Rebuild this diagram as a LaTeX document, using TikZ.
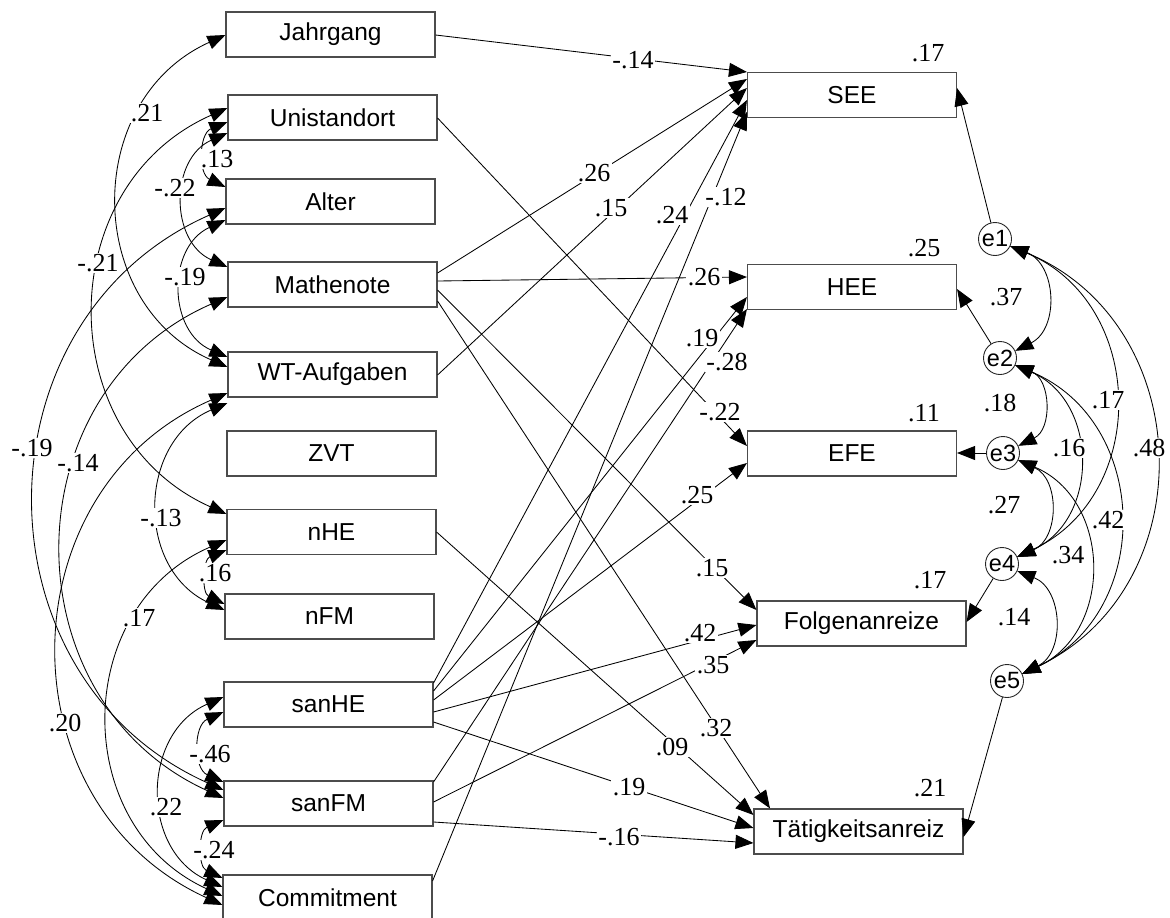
\documentclass[tikz,border=0pt]{standalone}
\usepackage{fontspec}
\setmainfont{Liberation Serif}
\newfontfamily\arialfont{Liberation Sans}
\usetikzlibrary{arrows.meta}

\begin{document}
\begin{tikzpicture}[x=1pt,y=-1pt,
  >={Triangle[length=18pt,width=14pt]},
  var/.style={draw=black!70,line width=1.1pt,minimum width=209pt,minimum height=45pt,
    inner sep=0pt,font=\arialfont\fontsize{24.5}{28}\selectfont},
  err/.style={draw=black!85,circle,line width=0.9pt,minimum size=33pt,inner sep=0pt,
    font=\arialfont\fontsize{23.5}{26}\selectfont},
  reg/.style={->,line width=0.85pt},
  cov/.style={<->,line width=0.85pt,looseness=1.21},
  covl/.style={cov,bend right=66},
  covr/.style={cov,bend left=66},
  coef/.style={fill=white,inner sep=1.5pt,font=\fontsize{26}{28}\selectfont},
  rsq/.style={inner sep=1pt,font=\fontsize{26}{28}\selectfont}
]
\useasboundingbox (0,0) rectangle (1170,918);

% exogenous variables
\node[var] (jahr)  at (330.5,34.5)  {Jahrgang};
\node[var] (uni)   at (332.5,117.5) {Unistandort};
\node[var] (alter) at (330.5,201.5) {Alter};
\node[var] (mathe) at (332.5,284.5) {Mathenote};
\node[var] (wt)    at (332.5,374.5) {WT-Aufgaben};
\node[var] (zvt)   at (331.5,453.5) {ZVT};
\node[var] (nhe)   at (331.5,532)   {nHE};
\node[var] (nfm)   at (329.5,616.5) {nFM};
\node[var] (sanhe) at (328.5,704.5) {sanHE};
\node[var] (sanfm) at (328.5,803.5) {sanFM};
\node[var] (comm)  at (327.5,897.5) {Commitment};

% endogenous variables
\node[var] (see)  at (852,95)    {SEE};
\node[var] (hee)  at (852,287)   {HEE};
\node[var] (efe)  at (852,453.5) {EFE};
\node[var] (folg) at (861.5,623.5) {Folgenanreize};
\node[var] (taet) at (858.5,831.5) {Tätigkeitsanreiz};

% residuals
\node[err] (e1) at (995,239)  {e1};
\node[err] (e2) at (1000,358) {e2};
\node[err] (e3) at (1003,453) {e3};
\node[err] (e4) at (1002,564) {e4};
\node[err] (e5) at (1007,681) {e5};

% squared multiple correlations
\node[rsq] (r1) at (928,53)  {.17};
\node[rsq] (r2) at (924,248) {.25};
\node[rsq] (r3) at (924,413) {.11};
\node[rsq] (r4) at (930,580) {.17};
\node[rsq] (r5) at (930,788) {.21};

% regression paths
\draw[reg] (jahr.east |- 0,35)   -- (see.west |- 0,72);
\draw[reg] (mathe.east |- 0,273) -- (see.west |- 0,79);
\draw[reg] (wt.east |- 0,375)    -- (see.west |- 0,88);
\draw[reg] (sanhe.east |- 0,683) -- (see.west |- 0,100);
\draw[reg] (comm.east |- 0,881)  -- (see.west |- 0,112);
\draw[reg] (mathe.east |- 0,281) -- (hee.west |- 0,277);
\draw[reg] (sanhe.east |- 0,691) -- (hee.west |- 0,297);
\draw[reg] (sanfm.east |- 0,782) -- (hee.west |- 0,309);
\draw[reg] (uni.east |- 0,118)   -- (efe.west |- 0,446);
\draw[reg] (sanhe.east |- 0,700) -- (efe.west |- 0,463);
\draw[reg] (mathe.east |- 0,290) -- (folg.west |- 0,610);
\draw[reg] (sanhe.east |- 0,712) -- (folg.west |- 0,625);
\draw[reg] (sanfm.east |- 0,802) -- (folg.west |- 0,640);
\draw[reg] (mathe.east |- 0,301) -- (taet.north -| 770,0);
\draw[reg] (nhe.east |- 0,532)   -- (taet.west |- 0,815);
\draw[reg] (sanhe.east |- 0,722) -- (taet.west |- 0,828);
\draw[reg] (sanfm.east |- 0,822) -- (taet.west |- 0,843);

% residual paths
\draw[reg] (e1) -- (see.east |- 0,88);
\draw[reg] (e2) -- (hee.east |- 0,289);
\draw[reg] (e3) -- (efe.east |- 0,453);
\draw[reg] (e4) -- (folg.east |- 0,622);
\draw[reg] (e5) -- (taet.east |- 0,837);

% covariances among exogenous variables
\draw[covl] (jahr.west |- 0,35)   to (wt.west |- 0,367);
\draw[covl] (uni.west |- 0,122)   to (alter.west |- 0,187);
\draw[covl] (uni.west |- 0,133)   to (mathe.west |- 0,267);
\draw[covl] (uni.west |- 0,108)   to (nhe.west |- 0,514);
\draw[covl] (alter.west |- 0,220) to (wt.west |- 0,357);
\draw[covl] (alter.west |- 0,208) to (sanfm.west |- 0,790);
\draw[covl] (mathe.west |- 0,297) to (sanfm.west |- 0,798);
\draw[covl] (wt.west |- 0,403)    to (nfm.west |- 0,610);
\draw[covl] (nhe.west |- 0,550)   to (nfm.west |- 0,604);
\draw[covl] (nhe.west |- 0,540)   to (comm.west |- 0,896);
\draw[covl] (wt.west |- 0,393)    to (comm.west |- 0,905);
\draw[covl] (sanhe.west |- 0,712) to (sanfm.west |- 0,782);
\draw[covl] (sanhe.west |- 0,697) to (comm.west |- 0,887);
\draw[covl] (sanfm.west |- 0,820) to (comm.west |- 0,878);

% residual covariances
\draw[covr] (e1.-25) to (e2.25);
\draw[covr] (e2.-25) to (e3.25);
\draw[covr] (e3.-25) to (e4.25);
\draw[covr] (e4.-25) to (e5.25);
\draw[covr] (e1.-25) to (e4.25);
\draw[covr] (e1.-25) to (e5.25);
\draw[covr] (e2.-25) to (e4.25);
\draw[covr] (e2.-25) to (e5.25);
\draw[covr] (e3.-25) to (e5.25);

% regression weights
\node[coef] (w1)  at (633,60)  {-.14};
\node[coef] (w2)  at (594,173) {.26};
\node[coef] (w3)  at (611,208) {.15};
\node[coef] (w4)  at (672,215) {.24};
\node[coef] (w5)  at (726,197) {-.12};
\node[coef] (w6)  at (704,277) {.26};
\node[coef] (w7)  at (702,338) {.19};
\node[coef] (w8)  at (727,362) {-.28};
\node[coef] (w9)  at (720,412) {-.22};
\node[coef] (w10) at (697,495) {.25};
\node[coef] (w11) at (712,568) {.15};
\node[coef] (w12) at (700,633) {.42};
\node[coef] (w13) at (713,665) {.35};
\node[coef] (w14) at (716,728) {.32};
\node[coef] (w15) at (672,747) {.09};
\node[coef] (w16) at (629,787) {.19};
\node[coef] (w17) at (619,837) {-.16};

% correlations among exogenous variables
\node[coef] (c1)  at (147,113) {.21};
\node[coef] (c2)  at (217,159) {.13};
\node[coef] (c3)  at (175,188) {-.22};
\node[coef] (c4)  at (98,263)  {-.21};
\node[coef] (c5)  at (185,277) {-.19};
\node[coef] (c6)  at (32,448)  {-.19};
\node[coef] (c7)  at (78,463)  {-.14};
\node[coef] (c8)  at (161,518) {-.13};
\node[coef] (c9)  at (215,573) {.16};
\node[coef] (c10) at (139,618) {.17};
\node[coef] (c11) at (65,723)  {.20};
\node[coef] (c12) at (210,754) {-.46};
\node[coef] (c13) at (166,807) {.22};
\node[coef] (c14) at (214,850) {-.24};

% residual correlations
\node[coef] (d1) at (1006,297) {.37};
\node[coef] (d2) at (1000,403) {.18};
\node[coef] (d3) at (1108,400) {.17};
\node[coef] (d4) at (1149,448) {.48};
\node[coef] (d5) at (1069,448) {.16};
\node[coef] (d6) at (1108,520) {.42};
\node[coef] (d7) at (1004,505) {.27};
\node[coef] (d8) at (1068,555) {.34};
\node[coef] (d9) at (1014,617) {.14};
\end{tikzpicture}
\end{document}
